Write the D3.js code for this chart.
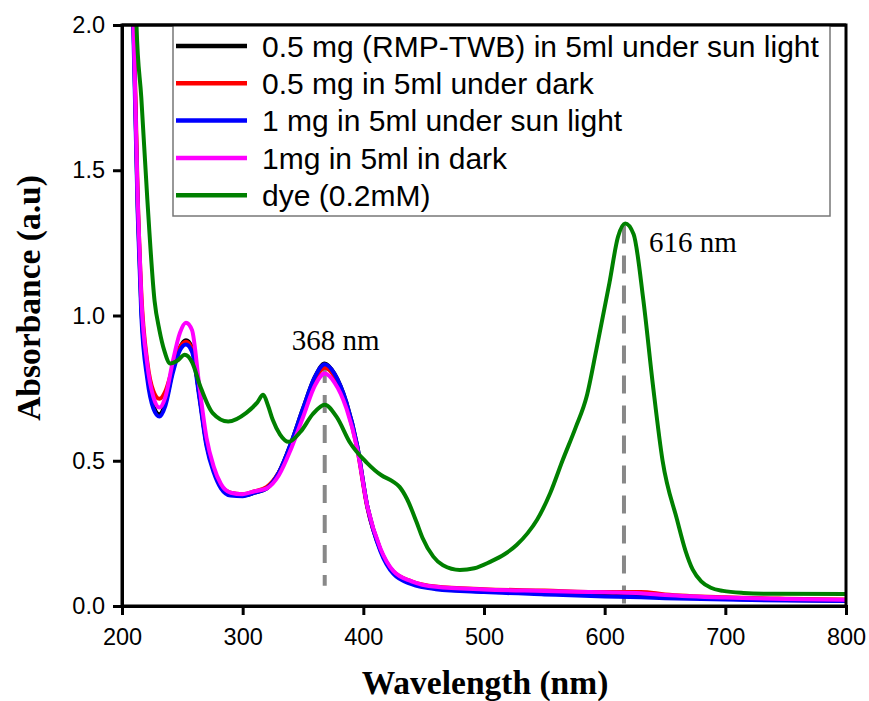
<!DOCTYPE html>
<html>
<head>
<title>UV-Vis absorbance</title>
<script src="https://d3js.org/d3.v7.min.js"></script>
<style>
body { margin: 0; background: #fff; }
.tick text { font-family: "Liberation Sans", Arial, sans-serif; font-size: 23.5px; fill: #000; }
</style>
</head>
<body>
<svg class="chart"></svg>
<script>
// wavelengths (nm) for the four sample curves
var wlSample = [205, 209, 213, 216, 221, 226, 231, 236, 242, 248, 253, 258, 264, 270, 276, 282, 290, 300, 310, 320, 330, 340, 350, 360, 368, 376, 386, 395, 403, 414, 425, 440, 460, 500, 550, 600, 630, 650, 700, 750, 800];

var blackAbs = [2.6, 2.1, 1.38, 1.03, 0.8, 0.69, 0.66, 0.7, 0.81, 0.89, 0.915, 0.89, 0.73, 0.56, 0.47, 0.41, 0.385, 0.38, 0.39, 0.405, 0.46, 0.56, 0.68, 0.79, 0.835, 0.8, 0.7, 0.55, 0.35, 0.195, 0.115, 0.08, 0.06, 0.05, 0.045, 0.04, 0.038, 0.033, 0.025, 0.021, 0.018];
var redAbs   = [2.6, 2.15, 1.42, 1.08, 0.84, 0.74, 0.713, 0.74, 0.82, 0.89, 0.91, 0.885, 0.73, 0.56, 0.47, 0.415, 0.39, 0.385, 0.395, 0.41, 0.46, 0.55, 0.67, 0.78, 0.82, 0.79, 0.69, 0.54, 0.345, 0.195, 0.118, 0.085, 0.067, 0.058, 0.053, 0.048, 0.048, 0.04, 0.03, 0.025, 0.022];
var blueAbs  = [2.5, 2.05, 1.35, 1.0, 0.78, 0.68, 0.652, 0.69, 0.8, 0.88, 0.9, 0.875, 0.72, 0.55, 0.46, 0.405, 0.38, 0.378, 0.39, 0.405, 0.46, 0.56, 0.68, 0.79, 0.832, 0.8, 0.7, 0.55, 0.35, 0.19, 0.11, 0.075, 0.058, 0.048, 0.04, 0.033, 0.03, 0.027, 0.022, 0.019, 0.017];
var pinkAbs  = [2.6, 2.1, 1.4, 1.06, 0.83, 0.72, 0.683, 0.72, 0.84, 0.94, 0.975, 0.95, 0.76, 0.58, 0.48, 0.42, 0.39, 0.385, 0.395, 0.405, 0.45, 0.54, 0.65, 0.76, 0.8, 0.77, 0.68, 0.54, 0.35, 0.2, 0.12, 0.085, 0.066, 0.057, 0.052, 0.047, 0.044, 0.038, 0.029, 0.024, 0.021];

// dye (0.2 mM) curve
var wlDye  = [209, 212, 216, 221, 227, 231, 235, 240, 246, 252, 258, 265, 275, 288, 303, 312, 317, 321, 325, 331, 338, 348, 358, 368, 378, 389, 403, 415, 424, 430, 436, 444, 449, 458, 466, 480, 492, 505, 517, 527, 536, 544, 555, 565, 576, 585, 593, 604, 611, 617, 624, 632, 640, 648, 660, 667, 673, 680, 688, 698, 715, 740, 800];
var dyeAbs = [2.7, 2.0, 1.75, 1.4, 1.05, 0.95, 0.88, 0.835, 0.845, 0.865, 0.84, 0.755, 0.665, 0.635, 0.665, 0.7, 0.727, 0.69, 0.64, 0.59, 0.565, 0.6, 0.66, 0.693, 0.65, 0.562, 0.493, 0.45, 0.43, 0.41, 0.37, 0.29, 0.235, 0.17, 0.14, 0.124, 0.13, 0.152, 0.178, 0.21, 0.25, 0.297, 0.39, 0.5, 0.615, 0.72, 0.88, 1.113, 1.27, 1.317, 1.28, 1.055, 0.76, 0.5, 0.297, 0.19, 0.125, 0.085, 0.063, 0.052, 0.045, 0.042, 0.041];

var seriesNames = ["0.5 mg (RMP-TWB) in 5ml under sun light", "0.5 mg in 5ml under dark", "1 mg in 5ml under sun light", "1mg in 5ml in dark", "dye (0.2mM)"];
var seriesColors = ["#000000", "#ff0000", "#0000ff", "#ff00ff", "#008000"];

var xTicks = [200, 300, 400, 500, 600, 700, 800];
var yTicks = [0.0, 0.5, 1.0, 1.5, 2.0];

var peaks = [
  {wl: 368, top: 0.83, bottom: 0.07, label: "368 nm"},
  {wl: 616, top: 1.31, bottom: 0.0, label: "616 nm"}
];

var W = 869, H = 701;
var margin = {top: 25, right: 23, bottom: 95, left: 122};
var width = W - margin.left - margin.right;
var height = H - margin.top - margin.bottom;

var svg = d3.select(".chart").attr("width", W).attr("height", H);
var chart = svg.append("g").attr("transform", "translate(" + margin.left + "," + margin.top + ")");

var x = d3.scaleLinear().domain([200, 800]).range([0, width]);
var y = d3.scaleLinear().domain([0, 2]).range([height, 0]);

svg.append("defs").append("clipPath").attr("id", "plotclip")
  .append("rect").attr("width", width).attr("height", height);

var series = [
  {wl: wlSample, v: blackAbs},
  {wl: wlSample, v: redAbs},
  {wl: wlSample, v: blueAbs},
  {wl: wlSample, v: pinkAbs},
  {wl: wlDye, v: dyeAbs}
];

var line = d3.line()
  .x(function(d){ return x(d[0]); })
  .y(function(d){ return y(d[1]); })
  .curve(d3.curveMonotoneX);

var plot = chart.append("g").attr("clip-path", "url(#plotclip)");

// dashed peak markers
plot.selectAll(".peak")
  .data(peaks)
  .enter().append("line")
  .attr("x1", function(d){ return x(d.wl); })
  .attr("x2", function(d){ return x(d.wl); })
  .attr("y1", function(d){ return y(d.top); })
  .attr("y2", function(d){ return y(d.bottom); })
  .attr("stroke", "#888")
  .attr("stroke-width", 4)
  .attr("stroke-dasharray", "18,12");

plot.selectAll(".curve")
  .data(series)
  .enter().append("path")
  .attr("class", "curve")
  .attr("fill", "none")
  .attr("stroke", function(d, i){ return seriesColors[i]; })
  .attr("stroke-width", 4)
  .attr("stroke-linejoin", "round")
  .attr("d", function(d){ return line(d.wl.map(function(w, i){ return [w, d.v[i]]; })); });

// peak labels
chart.append("text")
  .attr("x", x(368) - 33).attr("y", y(0.88))
  .attr("font-family", "Liberation Serif, Times New Roman, serif")
  .attr("font-size", 29)
  .text(peaks[0].label);
chart.append("text")
  .attr("x", x(616) + 25).attr("y", y(1.22))
  .attr("font-family", "Liberation Serif, Times New Roman, serif")
  .attr("font-size", 29)
  .text(peaks[1].label);

// frame
chart.append("rect")
  .attr("width", width).attr("height", height)
  .attr("fill", "none").attr("stroke", "#000").attr("stroke-width", 3);

// axes
var xAxis = chart.append("g")
  .attr("transform", "translate(0," + height + ")")
  .call(d3.axisBottom(x).tickValues(xTicks).tickSize(9).tickPadding(13).tickFormat(d3.format("d")));
var yAxis = chart.append("g")
  .call(d3.axisLeft(y).tickValues(yTicks).tickSize(9).tickPadding(8).tickFormat(d3.format(".1f")));
[xAxis, yAxis].forEach(function(a){
  a.select(".domain").attr("stroke-width", 3);
  a.selectAll(".tick line").attr("stroke-width", 3);
});

// legend
var legend = chart.append("g").attr("transform", "translate(51,0)");
legend.append("rect")
  .attr("width", 657).attr("height", 191)
  .attr("fill", "#fff").attr("stroke", "#777").attr("stroke-width", 1.5);
var items = legend.selectAll(".item")
  .data(seriesNames)
  .enter().append("g")
  .attr("transform", function(d, i){ return "translate(0," + (21 + i * 37.3) + ")"; });
items.append("line")
  .attr("x1", 3).attr("x2", 74)
  .attr("stroke", function(d, i){ return seriesColors[i]; })
  .attr("stroke-width", 4.5);
items.append("text")
  .attr("x", 89).attr("dy", "0.36em")
  .attr("font-family", "Liberation Sans, Arial, sans-serif")
  .attr("font-size", 30)
  .text(function(d){ return d; });
// redraw top frame line over legend
chart.append("line").attr("x1", 0).attr("x2", width).attr("y1", 0).attr("y2", 0)
  .attr("stroke", "#000").attr("stroke-width", 3);

// axis titles
svg.append("text")
  .attr("x", 485).attr("y", 694)
  .attr("text-anchor", "middle")
  .attr("font-family", "Liberation Serif, Times New Roman, serif")
  .attr("font-weight", "bold").attr("font-size", 33.5)
  .text("Wavelength (nm)");
svg.append("text")
  .attr("transform", "translate(40,298) rotate(-90)")
  .attr("text-anchor", "middle")
  .attr("font-family", "Liberation Serif, Times New Roman, serif")
  .attr("font-weight", "bold").attr("font-size", 33.5)
  .text("Absorbance (a.u)");
</script>
</body>
</html>
